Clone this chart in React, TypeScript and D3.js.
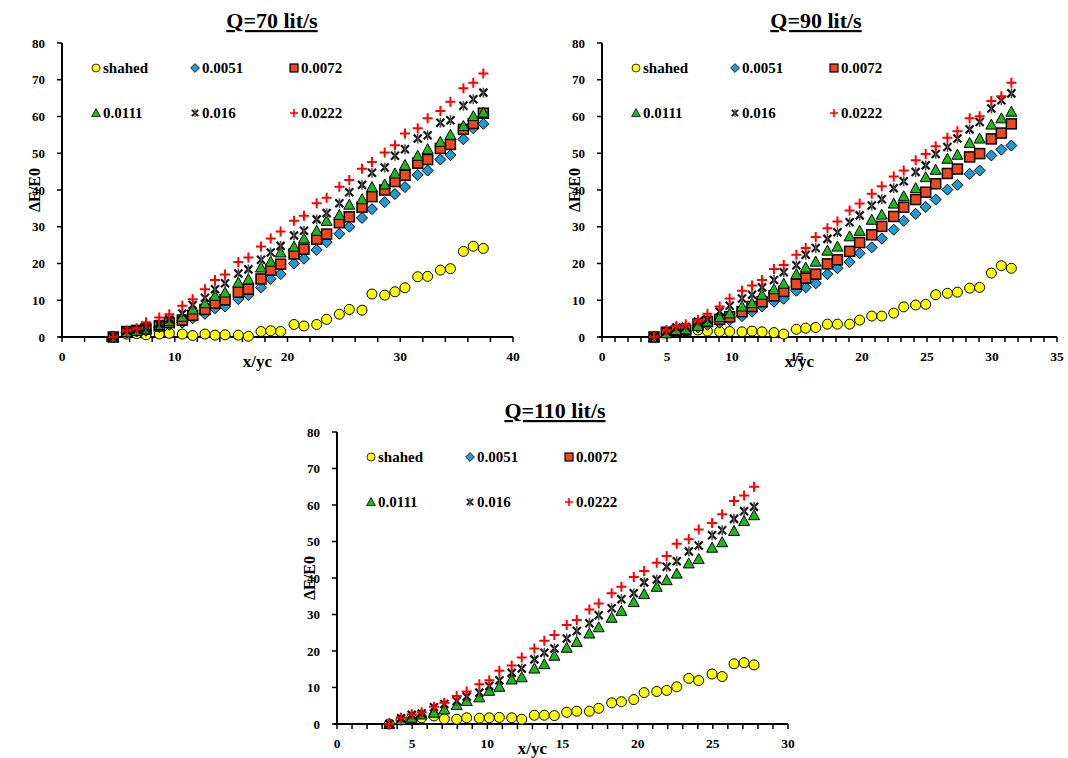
import React from "react";
import * as d3 from "d3";

// series order: shahed, 0.0051, 0.0072, 0.0111, 0.016, 0.0222
const SERIES_NAMES = ["shahed", "0.0051", "0.0072", "0.0111", "0.016", "0.0222"];

// ---- Q = 70 lit/s ----
const X_70 = [4.55, 5.74, 6.62, 7.45, 8.63, 9.52, 10.67, 11.59, 12.68, 13.57, 14.46, 15.64, 16.53, 17.65, 18.51, 19.39, 20.58, 21.46, 22.59, 23.47, 24.6, 25.48, 26.61, 27.49, 28.62, 29.53, 30.42, 31.55, 32.43, 33.56, 34.45, 35.6, 36.48, 37.37];
const SHAHED_70 = [0, 0.8, 0.9, 0.6, 0.8, 1.0, 0.8, 0.4, 0.8, 0.5, 0.6, 0.5, 0.2, 1.5, 1.7, 1.5, 3.4, 3.0, 3.4, 4.8, 6.2, 7.5, 7.3, 11.7, 11.4, 12.3, 13.4, 16.4, 16.5, 18.2, 18.6, 23.3, 24.7, 24.1];
const D51_70 = [0, 1.2, 1.5, 1.7, 2.7, 3.3, 3.9, 5.1, 6.3, 7.8, 8.3, 10.3, 11.4, 13.5, 15.8, 17.1, 20.0, 21.3, 23.7, 25.8, 28.1, 30.0, 32.4, 34.8, 36.7, 38.9, 40.8, 44.1, 45.3, 48.3, 49.5, 53.8, 56.8, 58.0];
const D72_70 = [0, 1.5, 1.8, 2.2, 3.0, 3.9, 4.6, 5.9, 7.5, 9.2, 10.1, 12.2, 13.0, 15.8, 18.2, 19.8, 22.6, 23.9, 26.6, 28.0, 31.1, 32.7, 35.3, 38.2, 40.0, 42.3, 44.0, 47.3, 48.3, 51.3, 52.4, 56.5, 58.1, 60.9];
const D111_70 = [0, 1.3, 1.7, 2.1, 3.3, 4.3, 5.5, 7.5, 9.2, 11.2, 12.1, 14.8, 15.7, 18.9, 20.5, 23.0, 24.6, 26.8, 28.9, 31.6, 33.2, 36.0, 37.5, 40.8, 41.5, 44.5, 46.8, 49.3, 51.1, 53.1, 55.0, 57.4, 60.1, 61.1];
const D16_70 = [0, 1.7, 2.0, 2.3, 3.5, 4.8, 6.4, 8.7, 10.7, 13.0, 14.6, 17.3, 18.4, 21.0, 23.0, 24.8, 27.6, 28.9, 32.0, 33.7, 36.4, 39.4, 41.4, 44.7, 46.1, 49.3, 51.1, 54.0, 54.9, 58.3, 59.0, 62.9, 64.7, 66.5];
const D222_70 = [0, 1.7, 2.4, 4.0, 5.3, 6.2, 8.5, 10.3, 13.0, 15.5, 17.0, 20.4, 21.6, 24.6, 26.8, 28.7, 31.6, 33.0, 36.4, 37.9, 40.9, 42.7, 45.8, 47.6, 50.2, 52.2, 55.4, 56.8, 59.5, 61.5, 64.0, 67.7, 69.2, 71.7];

// ---- Q = 90 lit/s ----
const X_90 = [4.0, 4.95, 5.72, 6.44, 7.38, 8.11, 9.05, 9.82, 10.77, 11.54, 12.31, 13.23, 13.98, 14.95, 15.67, 16.44, 17.34, 18.11, 19.05, 19.82, 20.75, 21.52, 22.44, 23.21, 24.13, 24.9, 25.67, 26.57, 27.34, 28.28, 29.05, 29.95, 30.72, 31.49];
const SHAHED_90 = [0, 1.2, 1.7, 1.7, 1.9, 1.6, 1.5, 1.5, 1.4, 1.6, 1.4, 1.2, 0.8, 2.1, 2.4, 2.6, 3.5, 3.5, 3.5, 4.6, 5.7, 5.7, 6.5, 8.2, 8.7, 8.9, 11.5, 11.9, 12.2, 13.3, 13.5, 17.4, 19.4, 18.7];
const D51_90 = [0, 1.0, 1.4, 1.5, 2.6, 3.3, 3.9, 4.6, 5.7, 6.9, 8.3, 9.6, 10.4, 12.6, 13.5, 14.6, 17.1, 18.7, 20.4, 22.8, 24.4, 26.8, 29.2, 31.6, 33.5, 35.4, 37.4, 40.1, 41.4, 44.4, 45.3, 49.4, 51.0, 52.1];
const D72_90 = [0, 1.3, 1.7, 1.9, 3.5, 4.2, 4.8, 5.5, 6.9, 8.3, 9.6, 11.2, 12.4, 14.4, 16.0, 17.1, 19.9, 21.0, 23.3, 25.7, 27.8, 30.1, 32.8, 35.3, 37.4, 39.4, 41.7, 44.5, 45.7, 49.0, 49.9, 53.9, 55.5, 58.0];
const D111_90 = [0, 1.0, 1.9, 2.1, 3.0, 4.2, 5.4, 6.4, 8.3, 9.2, 11.5, 13.0, 14.5, 17.1, 18.9, 20.5, 23.5, 24.6, 27.4, 28.9, 31.9, 33.3, 36.3, 38.3, 40.5, 43.5, 45.5, 48.5, 49.6, 52.8, 54.0, 57.8, 59.5, 61.3];
const D16_90 = [0, 1.5, 2.6, 2.8, 4.2, 4.8, 6.9, 8.5, 10.5, 11.5, 13.5, 15.5, 17.6, 19.5, 22.4, 24.2, 26.7, 28.5, 31.2, 33.1, 35.8, 37.5, 40.5, 42.4, 44.9, 46.7, 49.8, 51.7, 54.0, 56.5, 58.5, 62.2, 64.4, 66.3];
const D222_90 = [0, 1.9, 3.0, 3.5, 4.6, 6.3, 8.3, 10.5, 12.6, 14.0, 15.5, 18.5, 19.6, 22.4, 24.2, 27.2, 29.6, 31.4, 34.4, 36.3, 39.0, 41.0, 43.7, 45.3, 48.1, 49.8, 51.9, 54.2, 56.0, 59.5, 60.1, 64.2, 65.5, 69.2];

// ---- Q = 110 lit/s ----
const X_110 = [3.48, 4.26, 4.97, 5.63, 6.45, 7.14, 7.96, 8.63, 9.47, 10.13, 10.8, 11.62, 12.29, 13.13, 13.79, 14.46, 15.28, 15.95, 16.79, 17.41, 18.27, 18.92, 19.74, 20.43, 21.27, 21.93, 22.6, 23.4, 24.06, 24.95, 25.62, 26.41, 27.08, 27.74];
const SHAHED_110 = [0, 1.1, 1.6, 1.7, 2.2, 1.4, 1.3, 1.7, 1.6, 1.7, 1.8, 1.7, 1.3, 2.4, 2.4, 2.3, 3.2, 3.5, 3.5, 4.3, 5.8, 6.1, 6.7, 8.6, 8.9, 9.2, 10.2, 12.5, 11.9, 13.7, 13.0, 16.5, 16.8, 16.2];
const D51_110: number[] = [];
const D72_110: number[] = [];
const D111_110 = [0, 1.1, 1.7, 2.6, 3.1, 4.0, 5.2, 6.3, 7.3, 9.1, 10.2, 12.2, 12.8, 15.2, 16.4, 18.7, 20.9, 22.5, 24.8, 26.5, 29.1, 31.0, 33.4, 35.6, 37.6, 39.4, 41.2, 44.0, 45.2, 48.3, 49.8, 52.9, 55.6, 57.2];
const D16_110 = [0, 1.6, 2.5, 2.9, 4.6, 5.5, 6.3, 7.5, 8.6, 10.4, 12.0, 14.0, 15.2, 17.7, 19.5, 20.7, 23.4, 25.5, 27.6, 29.8, 31.7, 34.2, 35.8, 38.8, 39.6, 43.1, 44.6, 47.3, 48.9, 51.7, 53.1, 56.2, 58.3, 59.5];
const D222_110 = [0, 1.7, 2.7, 3.2, 4.7, 5.8, 7.7, 8.9, 10.9, 12.0, 14.6, 16.0, 18.2, 20.7, 22.8, 24.4, 27.1, 28.5, 31.4, 33.0, 35.8, 37.6, 40.3, 41.9, 44.2, 46.0, 49.4, 50.6, 53.3, 55.1, 57.5, 61.1, 62.6, 65.0];

const Y_TICKS = [0, 10, 20, 30, 40, 50, 60, 70, 80];

const FONT = "'Liberation Serif', 'Times New Roman', serif";

type Kind = "circle" | "diamond" | "square" | "triangle" | "star" | "plus";
const KINDS: Kind[] = ["circle", "diamond", "square", "triangle", "star", "plus"];

function Marker({ kind, x, y, s = 1 }: { kind: Kind; x: number; y: number; s?: number }) {
  const t = `translate(${x},${y}) scale(${s})`;
  switch (kind) {
    case "circle":
      return <circle transform={t} r={5} fill="#FFFF00" stroke="#000" strokeWidth={1} />;
    case "diamond":
      return <path transform={t} d="M0,-5.5L5.5,0L0,5.5L-5.5,0Z" fill="#1E9AD6" stroke="#000" strokeWidth={1} />;
    case "square":
      return <rect transform={t} x={-5} y={-5} width={10} height={10} fill="#F4461C" stroke="#000" strokeWidth={1.5} />;
    case "triangle":
      return <path transform={t} d="M0,-5.5L5.5,4.5L-5.5,4.5Z" fill="#1CB81C" stroke="#000" strokeWidth={1} />;
    case "star":
      // asterisk style: X with a vertical bar
      return (
        <g transform={t}>
          <path d="M-4,-4L4,4M-4,4L4,-4" stroke="#111" strokeWidth={2.2} fill="none" />
          <path d="M0,-5L0,5" stroke="#555" strokeWidth={1.6} fill="none" />
        </g>
      );
    case "plus":
      return <path transform={t} d="M-5,0L5,0M0,-5L0,5" stroke="#FF0000" strokeWidth={2} fill="none" />;
  }
}

interface PanelProps {
  title: string;
  titleX: number;
  titleY: number;
  xMax: number;
  xMajor: number;
  xMinor: number;
  x0: number;
  x1: number;
  yTop: number;
  yBottom: number;
  xs: number[];
  series: number[][];
}

function Panel(p: PanelProps) {
  const x = d3.scaleLinear().domain([0, p.xMax]).range([p.x0, p.x1]);
  const y = d3.scaleLinear().domain([0, 80]).range([p.yBottom, p.yTop]);
  const majors = d3.range(0, p.xMax + 0.001, p.xMajor);
  const minors = d3.range(0, p.xMax + 0.001, p.xMinor);
  const legendRows = [p.yTop + 25, p.yTop + 70];
  const legendCols = [p.x0 + 34, p.x0 + 133, p.x0 + 232];
  const midX = (p.x0 + p.x1) / 2 - 30;

  return (
    <g>
      <text x={p.titleX} y={p.titleY} textAnchor="middle" fontFamily={FONT} fontWeight="bold" fontSize={22}
        style={{ textDecoration: "underline" }}>
        {p.title}
      </text>

      {/* y axis */}
      <line x1={p.x0} x2={p.x0} y1={y(80)} y2={y(0)} stroke="#000" strokeWidth={2} />
      {Y_TICKS.map((t) => (
        <g key={"y" + t}>
          <line x1={p.x0 - 5} x2={p.x0} y1={y(t)} y2={y(t)} stroke="#000" strokeWidth={1.5} />
          <text x={p.x0 - 17} y={y(t)} dy="0.35em" textAnchor="end" fontFamily={FONT} fontWeight="bold" fontSize={13}>
            {t}
          </text>
        </g>
      ))}

      {/* x axis */}
      <line x1={p.x0 - 3} x2={p.x1} y1={y(0)} y2={y(0)} stroke="#000" strokeWidth={2} />
      {minors.map((t) => (
        <line key={"m" + t} x1={x(t)} x2={x(t)} y1={y(0)} y2={y(0) + 5} stroke="#000" strokeWidth={1.5} />
      ))}
      {majors.map((t) => (
        <text key={"x" + t} x={x(t)} y={y(0) + 24} textAnchor="middle" fontFamily={FONT} fontWeight="bold" fontSize={13.5}>
          {t}
        </text>
      ))}

      <text x={midX} y={y(0) + 30} textAnchor="middle" fontFamily={FONT} fontWeight="bold" fontSize={17}>
        x/yc
      </text>
      <text transform={`translate(${p.x0 - 22},${(p.yTop + p.yBottom) / 2}) rotate(-90)`} textAnchor="middle"
        fontFamily={FONT} fontWeight="bold" fontSize={16}>
        ΔE/E0
      </text>

      {/* points */}
      {p.series.map((vals, si) => (
        <g key={"s" + si}>
          {vals.map((v, i) => (
            <Marker key={i} kind={KINDS[si]} x={x(p.xs[i])} y={y(v)} />
          ))}
        </g>
      ))}

      {/* legend */}
      {SERIES_NAMES.map((name, i) => {
        const lx = legendCols[i % 3];
        const ly = legendRows[Math.floor(i / 3)];
        return (
          <g key={"l" + name}>
            <Marker kind={KINDS[i]} x={lx} y={ly} s={0.8} />
            <text x={lx + 7} y={ly + 5} fontFamily={FONT} fontWeight="bold" fontSize={15}>
              {name}
            </text>
          </g>
        );
      })}
    </g>
  );
}

export default function App() {
  return (
    <div style={{ position: "absolute", left: 0, top: 0 }}>
      <svg width={1068} height={758} style={{ display: "block", background: "#fff" }}>
        <Panel title="Q=70 lit/s" titleX={272} titleY={28} xMax={40} xMajor={10} xMinor={2}
          x0={62} x1={513} yTop={43} yBottom={337} xs={X_70}
          series={[SHAHED_70, D51_70, D72_70, D111_70, D16_70, D222_70]} />
        <Panel title="Q=90 lit/s" titleX={816} titleY={28} xMax={35} xMajor={5} xMinor={1}
          x0={602} x1={1057} yTop={43} yBottom={337} xs={X_90}
          series={[SHAHED_90, D51_90, D72_90, D111_90, D16_90, D222_90]} />
        <Panel title="Q=110 lit/s" titleX={555} titleY={418} xMax={30} xMajor={5} xMinor={1}
          x0={337} x1={788} yTop={432} yBottom={724} xs={X_110}
          series={[SHAHED_110, D51_110, D72_110, D111_110, D16_110, D222_110]} />
      </svg>
    </div>
  );
}
